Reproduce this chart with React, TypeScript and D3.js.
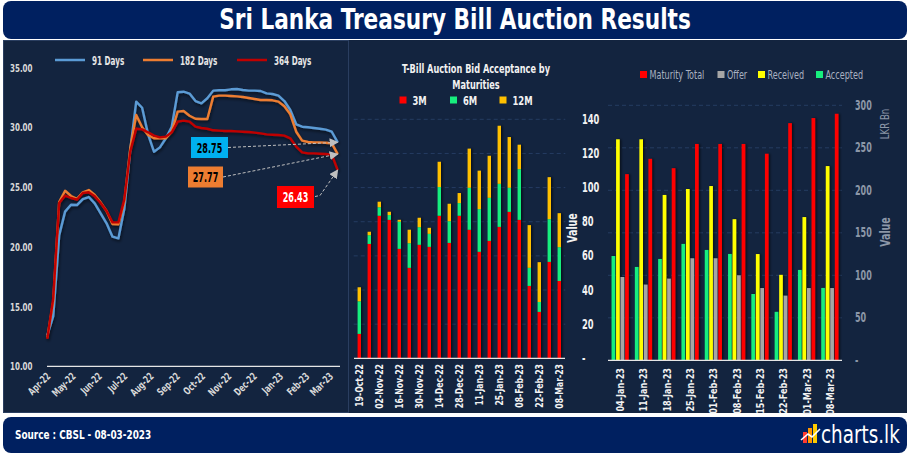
import React from "react";
import * as d3 from "d3";

const FONT = "'Liberation Sans Narrow','DejaVu Sans Condensed','Roboto Condensed',Roboto,sans-serif";

// ---- left panel: weekly T-bill yields (%) from 06-Apr-22 to 08-Mar-23
const firstWeek = new Date(2022, 3, 6);
const t91 = [12.6, 14.2, 20.95, 22.95, 23.53, 23.5, 24.0, 24.17, 23.64, 22.81, 21.97, 20.85, 20.71, 23.22, 28.11, 32.16, 31.65, 29.42, 27.97, 28.33, 29.09, 30.06, 32.94, 32.99, 32.83, 32.21, 32.02, 32.44, 33.08, 33.11, 33.11, 33.19, 33.22, 33.13, 33.08, 33.08, 33.05, 32.85, 32.8, 32.66, 32.21, 31.46, 30.26, 30.06, 30.01, 29.95, 29.89, 29.81, 29.64, 28.75];
const t182 = [12.4, 15.41, 23.76, 24.7, 24.26, 24.03, 24.57, 24.76, 24.34, 23.73, 23.0, 21.91, 21.89, 23.78, 28.25, 31.04, 30.01, 29.37, 29.09, 29.09, 29.09, 29.65, 31.32, 31.37, 30.98, 30.73, 30.7, 30.7, 32.58, 32.66, 32.66, 32.63, 32.6, 32.55, 32.46, 32.38, 32.3, 32.3, 32.27, 32.16, 31.77, 31.1, 29.64, 28.89, 28.78, 28.75, 28.75, 28.72, 28.67, 27.77];
const t364 = [12.3, 15.69, 23.68, 24.29, 24.09, 23.95, 24.51, 24.57, 24.23, 23.67, 23.0, 22.05, 22.05, 24.0, 27.97, 29.89, 29.84, 29.59, 29.31, 29.17, 29.23, 29.59, 30.48, 30.57, 30.48, 30.06, 29.95, 29.89, 29.76, 29.73, 29.7, 29.7, 29.67, 29.64, 29.62, 29.56, 29.5, 29.42, 29.39, 29.37, 29.31, 29.09, 28.39, 27.91, 27.83, 27.83, 27.8, 27.77, 27.72, 26.43];
const yieldTicks = [10, 15, 20, 25, 30, 35];

// ---- middle panel: accepted bids by maturity (LKR Bn)
const auctionDates = ["19-Oct-22", "26-Oct-22", "02-Nov-22", "09-Nov-22", "16-Nov-22", "23-Nov-22", "30-Nov-22", "07-Dec-22", "14-Dec-22", "21-Dec-22", "28-Dec-22", "04-Jan-23", "11-Jan-23", "18-Jan-23", "25-Jan-23", "01-Feb-23", "08-Feb-23", "15-Feb-23", "22-Feb-23", "01-Mar-23", "08-Mar-23"];
const acc3M = [14.3, 67, 83.5, 81.1, 64.1, 53, 66.5, 65.3, 83.5, 67.6, 83.5, 75.3, 62.4, 68.8, 77, 85.8, 81.1, 42.4, 27.2, 56.5, 45.3];
const acc6M = [19.1, 5.1, 5, 2.8, 15.9, 14.4, 10.3, 7.6, 16.8, 12.7, 7.4, 24.6, 25, 25.2, 25.2, 14.1, 29.7, 10.6, 5.8, 25, 19.8];
const acc12M = [8.2, 2, 3.2, 1.9, 1.1, 7.9, 5.5, 3.5, 14.8, 10.2, 5.9, 22.9, 22.5, 24.6, 34, 29.7, 14.3, 25, 23.3, 24.6, 19.9];
const valueTicks = [0, 20, 40, 60, 80, 100, 120, 140];

// ---- right panel: 2023 auctions (LKR Bn)
const weekLabels = ["04-Jan-23", "11-Jan-23", "18-Jan-23", "25-Jan-23", "01-Feb-23", "08-Feb-23", "15-Feb-23", "22-Feb-23", "01-Mar-23", "08-Mar-23"];
const maturityTotal = [219, 237, 226, 254.5, 254.5, 254.5, 243, 279, 285, 290];
const offer = [98, 89, 96, 120, 120, 100, 85, 76, 85, 85];
const received = [260, 260, 194.5, 201.5, 205, 166, 125, 100.5, 168.5, 228.5];
const accepted = [122.7, 109.8, 119.2, 136.9, 129.8, 125.1, 78, 57, 106.3, 85.1];
const lkrTicks = [0, 50, 100, 150, 200, 250, 300];

const BLUE = "#5b9bd5", ORANGE = "#ed7d31", DRED = "#c00000";
const RED = "#ff0000", GREEN = "#17ee7e", AMBER = "#ffc000", YELLOW = "#ffff00", GREY = "#a6a6a6";

function Txt({ x, y, rot = 0, sx = 1, children, ...rest }: any) {
  return (
    <text transform={`translate(${x},${y})${rot ? ` rotate(${rot})` : ""} scale(${sx},1)`} fontFamily={FONT} {...rest}>
      {children}
    </text>
  );
}

export default function App() {
  // left chart scales
  const dates = t91.map((_, i) => d3.timeWeek.offset(firstWeek, i));
  const xL = d3.scaleTime().domain([dates[0], dates[dates.length - 1]]).range([47.3, 337.7]);
  const yL = d3.scaleLinear().domain([10, 35]).range([366.3, 67.7]);
  const line = d3.line<number>().x((d, i) => xL(dates[i])).y((d) => yL(d));
  const months = d3.timeMonth.range(new Date(2022, 3, 1), new Date(2023, 2, 2));
  const fmtMonth = d3.timeFormat("%b-%y");
  const last = dates.length - 1;
  const endX = xL(dates[last]);

  // middle chart scales
  const xM = d3.scalePoint<string>().domain(auctionDates).range([359.3, 559.3]);
  const yM = d3.scaleLinear().domain([0, 140]).range([358.3, 119.3]);
  const rows = auctionDates.map((d, i) => ({ date: d, m3: acc3M[i], m6: acc6M[i], m12: acc12M[i] }));
  const stacked = d3.stack<any>().keys(["m3", "m6", "m12"])(rows);
  const stackColors = [RED, GREEN, AMBER];

  // right chart scales
  const xR = d3.scaleBand<string>().domain(weekLabels).range([608.5, 841.5]);
  const seriesKeys = ["accepted", "received", "offer", "maturity"];
  const seriesVals: Record<string, number[]> = { accepted, received, offer, maturity: maturityTotal };
  const seriesCol: Record<string, string> = { accepted: GREEN, received: YELLOW, offer: GREY, maturity: RED };
  const xIn = d3.scaleBand<string>().domain(seriesKeys).range([-8.6, 8.6]).paddingInner(0.2);
  const yR = d3.scaleLinear().domain([0, 300]).range([360.3, 105.3]);

  return (
    <svg width={910} height={456} style={{ position: "absolute", left: 0, top: 0, background: "#fff" }}>
      <defs>
        <filter id="lineShadow" x="-10%" y="-10%" width="120%" height="130%">
          <feDropShadow dx="1" dy="2" stdDeviation="1.5" floodColor="#000" floodOpacity="0.55" />
        </filter>
        <filter id="barShadow" x="-20%" y="-5%" width="160%" height="110%">
          <feDropShadow dx="1.5" dy="0" stdDeviation="1" floodColor="#000" floodOpacity="0.6" />
        </filter>
        <marker id="arrow" viewBox="0 0 10 10" refX="9" refY="5" markerWidth="9" markerHeight="9" orient="auto" markerUnits="userSpaceOnUse">
          <path d="M0,0 L10,5 L0,10 z" fill="#bfbfbf" />
        </marker>
      </defs>

      {/* frames */}
      <rect x={3} y={1} width={904} height={38} rx={8} fill="#002060" />
      <Txt x={455} y={29} sx={0.86} textAnchor="middle" fill="#fff" fontSize={28} fontWeight="bold">
        Sri Lanka Treasury Bill Auction Results
      </Txt>
      <rect x={3} y={40} width={904} height={373} fill="#13243f" />
      <rect x={3.5} y={40.5} width={345} height={372} fill="none" stroke="#2a3e60" />
      <rect x={3} y={417} width={904} height={36} rx={8} fill="#002060" />
      <Txt x={15} y={439} sx={0.76} fill="#fff" fontSize={13} fontWeight="bold">Source : CBSL - 08-03-2023</Txt>

      {/* charts.lk logo */}
      <g>
        <rect x={803} y={432} width={4} height={11} fill="#ff3b30" />
        <rect x={808} y={428} width={4} height={15} fill="#ff9500" />
        <rect x={813} y={424} width={4} height={19} fill="#ffcc00" />
        <path d="M801,440 L808,434 L812,437 L820,429" fill="none" stroke="#fff" strokeWidth={1.6} />
        <Txt x={821} y={443} sx={0.85} fill="#fff" fontSize={24}>charts.lk</Txt>
      </g>

      {/* ===== left chart ===== */}
      {[{ c: BLUE, t: "91 Days", x: 55 }, { c: ORANGE, t: "182 Days", x: 143 }, { c: DRED, t: "364 Days", x: 237 }].map((l) => (
        <g key={l.t}>
          <line x1={l.x} x2={l.x + 30} y1={60} y2={60} stroke={l.c} strokeWidth={2.5} />
          <Txt x={l.x + 37} y={64.5} sx={0.62} fill="#e6e6e6" fontSize={13} fontWeight="bold">{l.t}</Txt>
        </g>
      ))}
      {yieldTicks.map((t) => (
        <Txt key={t} x={10} y={yL(t) + 4} sx={0.72} fill="#d9d9d9" fontSize={11} fontWeight="bold">
          {d3.format(".2f")(t)}
        </Txt>
      ))}
      <line x1={47} x2={340} y1={yL(10)} y2={yL(10)} stroke="#e6e6e6" strokeWidth={1.2} />
      {months.map((m) => (
        <Txt key={+m} x={xL(m) + 8} y={377} rot={-45} sx={0.74} textAnchor="end" fill="#d9d9d9" fontSize={10.5} fontWeight="bold">
          {fmtMonth(m)}
        </Txt>
      ))}
      <g filter="url(#lineShadow)" fill="none" strokeWidth={2.4} strokeLinejoin="round">
        <path d={line(t91) || ""} stroke={BLUE} />
        <path d={line(t182) || ""} stroke={ORANGE} />
        <path d={line(t364) || ""} stroke={DRED} />
      </g>
      {/* end annotations */}
      <g stroke="#bfbfbf" strokeWidth={1} strokeDasharray="3,2" fill="none">
        <path d={`M228,147.5 L${endX},${yL(t91[last])}`} markerEnd="url(#arrow)" />
        <path d={`M223,177 L${endX},${yL(t182[last])}`} markerEnd="url(#arrow)" />
        <path d={`M315,196.5 L320,195.5 L${endX},${yL(t364[last])}`} markerEnd="url(#arrow)" />
      </g>
      <rect x={191} y={137} width={37} height={21} fill="#00b0f0" />
      <Txt x={209.5} y={152.5} sx={0.64} textAnchor="middle" fill="#000" fontSize={14} fontWeight="bold">{t91[last].toFixed(2)}</Txt>
      <rect x={188} y={166.5} width={35} height={21} fill={ORANGE} />
      <Txt x={205.5} y={182} sx={0.64} textAnchor="middle" fill="#000" fontSize={14} fontWeight="bold">{t182[last].toFixed(2)}</Txt>
      <rect x={277} y={186} width={37} height={22} fill={RED} />
      <Txt x={295.5} y={202} sx={0.64} textAnchor="middle" fill="#fff" fontSize={14} fontWeight="bold">{t364[last].toFixed(2)}</Txt>

      {/* ===== middle chart ===== */}
      <Txt x={476} y={73} sx={0.7} textAnchor="middle" fill="#f2f2f2" fontSize={13} fontWeight="bold">T-Bill Auction Bid Acceptance by</Txt>
      <Txt x={476} y={88.5} sx={0.7} textAnchor="middle" fill="#f2f2f2" fontSize={13} fontWeight="bold">Maturities</Txt>
      {[{ c: RED, t: "3M", x: 399.5 }, { c: GREEN, t: "6M", x: 450 }, { c: AMBER, t: "12M", x: 499.5 }].map((l) => (
        <g key={l.t}>
          <rect x={l.x} y={96.5} width={7} height={7} fill={l.c} />
          <Txt x={l.x + 13} y={105} sx={0.72} fill="#f2f2f2" fontSize={13} fontWeight="bold">{l.t}</Txt>
        </g>
      ))}
      {valueTicks.slice(1).map((t) => (
        <line key={t} x1={353.7} x2={565.3} y1={yM(t)} y2={yM(t)} stroke="#253c62" strokeDasharray="4,3" />
      ))}
      <g filter="url(#barShadow)">
        {stacked.map((s, si) =>
          s.map((d: any) => (
            <rect key={si + d.data.date} x={(xM(d.data.date) as number) - 1.7} y={yM(d[1])} width={3.4} height={yM(d[0]) - yM(d[1])} fill={stackColors[si]} />
          ))
        )}
      </g>
      <line x1={354} x2={565} y1={yM(0)} y2={yM(0)} stroke="#e6e6e6" strokeWidth={1.2} />
      {auctionDates.filter((_, i) => i % 2 === 0).map((d) => (
        <Txt key={d} x={(xM(d) as number) + 3.6} y={364} rot={-90} sx={0.82} textAnchor="end" fill="#f2f2f2" fontSize={10.5} fontWeight="bold">{d}</Txt>
      ))}
      {valueTicks.map((t) => (
        <Txt key={t} x={582} y={yM(t) + 4.5} sx={0.66} fill="#f2f2f2" fontSize={14} fontWeight="bold">{t === 0 ? "-" : t}</Txt>
      ))}
      <Txt x={577} y={228} rot={-90} sx={0.75} textAnchor="middle" fill="#f2f2f2" fontSize={14} fontWeight="bold">Value</Txt>

      {/* ===== right chart ===== */}
      {[{ c: RED, t: "Maturity Total", x: 640 }, { c: GREY, t: "Offer", x: 717.5 }, { c: YELLOW, t: "Received", x: 758 }, { c: GREEN, t: "Accepted", x: 816 }].map((l) => (
        <g key={l.t}>
          <rect x={l.x} y={71} width={7} height={7} fill={l.c} />
          <Txt x={l.x + 9.5} y={79} sx={0.78} fill="#a9b1c0" fontSize={11.5}>{l.t}</Txt>
        </g>
      ))}
      {lkrTicks.slice(1).map((t) => (
        <line key={t} x1={608} x2={842} y1={yR(t)} y2={yR(t)} stroke="#253c62" strokeDasharray="4,3" />
      ))}
      <g filter="url(#barShadow)">
        {weekLabels.map((w, i) =>
          seriesKeys.map((k) => (
            <rect key={w + k} x={(xR(w) as number) + xR.bandwidth() / 2 + (xIn(k) as number)} y={yR(seriesVals[k][i])} width={xIn.bandwidth()} height={yR(0) - yR(seriesVals[k][i])} fill={seriesCol[k]} />
          ))
        )}
      </g>
      <line x1={608} x2={842} y1={yR(0)} y2={yR(0)} stroke="#e6e6e6" strokeWidth={1.2} />
      {weekLabels.map((w) => (
        <Txt key={w} x={(xR(w) as number) + xR.bandwidth() / 2 + 4} y={368} rot={-90} sx={0.82} textAnchor="end" fill="#f2f2f2" fontSize={11} fontWeight="bold">{w}</Txt>
      ))}
      {lkrTicks.map((t) => (
        <Txt key={t} x={855} y={yR(t) + 4.5} sx={0.64} fill="#8c97a8" fontSize={14} fontWeight="bold">{t === 0 ? "-" : t}</Txt>
      ))}
      <Txt x={889} y={124} rot={-90} sx={0.8} textAnchor="middle" fill="#8c97a8" fontSize={12}>LKR Bn</Txt>
      <Txt x={890} y={232} rot={-90} sx={0.75} textAnchor="middle" fill="#8c97a8" fontSize={14} fontWeight="bold">Value</Txt>
    </svg>
  );
}
